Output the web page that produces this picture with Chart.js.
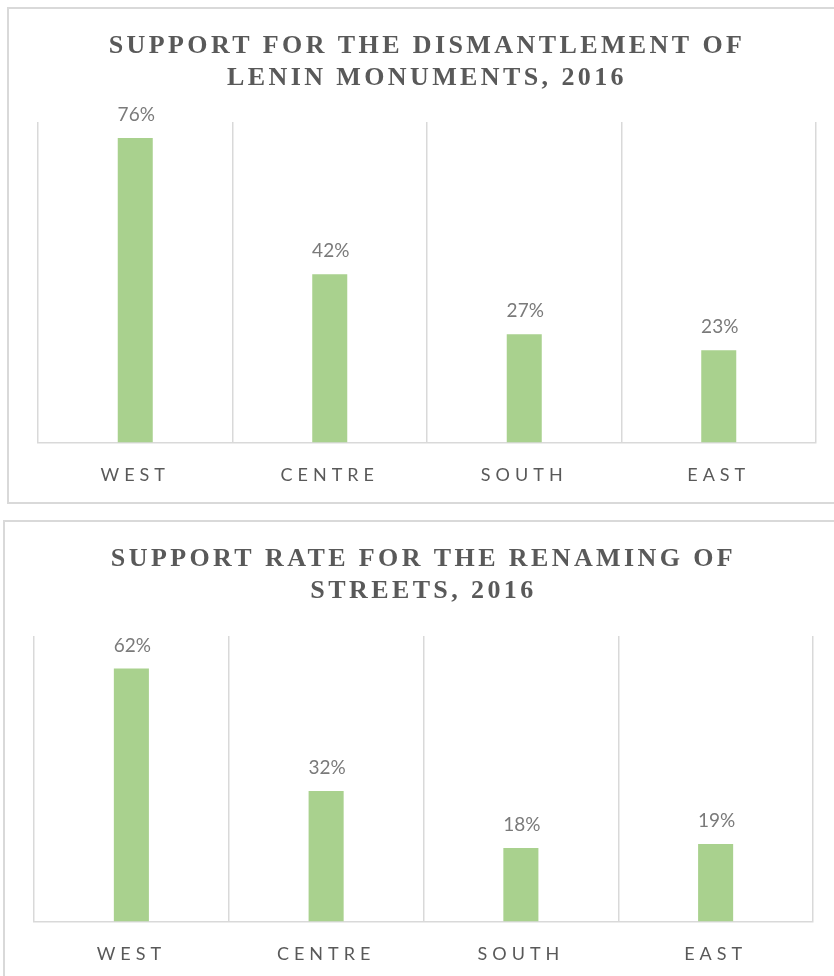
<!DOCTYPE html>
<html>
<head>
<meta charset="utf-8">
<script src="https://cdn.jsdelivr.net/npm/chart.js@4.4.1/dist/chart.umd.min.js"></script>
<style>
  html, body { margin: 0; padding: 0; background: #fff; width: 834px; height: 976px; overflow: hidden; position: relative; }
  .panel { position: absolute; border: 2px solid #d9d9d9; background: #fff; overflow: hidden; }
  #p1 { left: 7px; top: 7px; width: 840px; height: 493px; }
  #p2 { left: 3px; top: 520px; width: 840px; height: 470px; }
  canvas { display: block; }
</style>
</head>
<body>
<div class="panel" id="p1"><canvas id="c1" width="834" height="516"></canvas></div>
<div class="panel" id="p2"><canvas id="c2" width="832" height="482"></canvas></div>
<script>
// Regions surveyed
const regions = ['WEST', 'CENTRE', 'SOUTH', 'EAST'];

// Share of respondents in favour (%)
const monumentSupport = [76, 42, 27, 23];
const renamingSupport = [62, 32, 18, 19];

const monumentTitle = ['SUPPORT FOR THE DISMANTLEMENT OF', 'LENIN MONUMENTS, 2016'];
const renamingTitle = ['SUPPORT RATE FOR THE RENAMING OF', 'STREETS, 2016'];

const GREEN = '#a9d18e';
const GRID = '#d9d9d9';
const TEXT = '#595959';

// Apply canvas letter spacing to a drawing method of a chart element
function spaced(obj, method, spacing) {
  if (!obj || obj['__spaced_' + method]) return;
  const orig = obj[method];
  obj[method] = function (...args) {
    const ctx = this.ctx;
    ctx.save();
    ctx.letterSpacing = spacing;
    const r = orig.apply(this, args);
    ctx.restore();
    return r;
  };
  obj['__spaced_' + method] = true;
}

const letterSpacing = {
  id: 'letterSpacing',
  afterLayout(chart) {
    spaced(chart.titleBlock, 'draw', '3.4px');
    spaced(chart.scales.x, 'drawLabels', '5px');
  }
};

// Percentage labels above each bar
const valueLabels = {
  id: 'valueLabels',
  afterDatasetsDraw(chart) {
    const { ctx } = chart;
    const values = chart.data.datasets[0].data;
    ctx.save();
    ctx.letterSpacing = '0px';
    ctx.font = '19px Lato';
    ctx.fillStyle = '#7a7a7a';
    ctx.textAlign = 'center';
    ctx.textBaseline = 'middle';
    chart.getDatasetMeta(0).data.forEach((bar, i) => {
      ctx.fillText(values[i] + '%', bar.x + 1, bar.y - 23);
    });
    ctx.restore();
  }
};

function makeChart(id, title, values, yMax, pad) {
  return new Chart(document.getElementById(id), {
    type: 'bar',
    data: {
      labels: regions,
      datasets: [{
        data: values,
        backgroundColor: GREEN,
        borderWidth: 0,
        barPercentage: 1,
        categoryPercentage: 0.18
      }]
    },
    options: {
      responsive: false,
      animation: false,
      layout: { padding: { left: pad.left, right: pad.right, top: 0, bottom: 17 } },
      plugins: {
        legend: { display: false },
        tooltip: { enabled: false },
        title: {
          display: true,
          text: title,
          color: TEXT,
          font: { family: "'Liberation Serif', 'Times New Roman', serif", size: 26, weight: 'bold', lineHeight: 1.23 },
          padding: { top: 21, bottom: pad.titleBottom }
        }
      },
      scales: {
        x: {
          grid: { color: GRID, lineWidth: 1.5, drawTicks: false, offset: true },
          border: { color: GRID, width: 1.5 },
          ticks: { color: TEXT, font: { family: 'Lato', size: 18 }, padding: 22 }
        },
        y: { display: false, min: 0, max: yMax }
      }
    },
    plugins: [letterSpacing, valueLabels]
  });
}

makeChart('c1', monumentTitle, monumentSupport, 80, { left: 29, right: 27, titleBottom: 28 });
makeChart('c2', renamingTitle, renamingSupport, 70, { left: 29, right: 24, titleBottom: 29 });
</script>
</body>
</html>
